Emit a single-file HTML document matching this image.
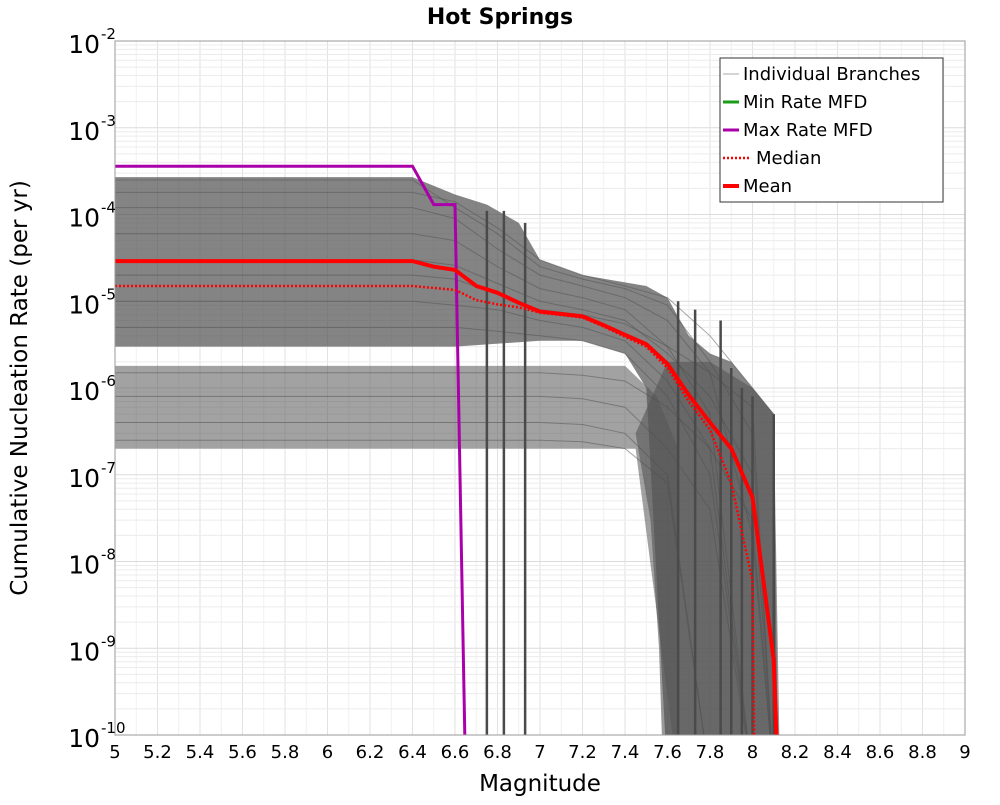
<!DOCTYPE html>
<html><head><meta charset="utf-8"><style>
body{margin:0;background:#fff;font-family:"Liberation Sans","DejaVu Sans",sans-serif}
svg text{font-family:"DejaVu Sans","Liberation Sans",sans-serif}
</style></head><body>
<svg id="chart" width="1000" height="800" xmlns="http://www.w3.org/2000/svg">
<defs><clipPath id="clip"><rect x="115" y="41" width="850" height="694"/></clipPath></defs>
<rect x="0" y="0" width="1000" height="800" fill="#fff"/>
<g id="grid"></g>
<g id="marks" clip-path="url(#clip)"></g>
<rect x="115" y="41" width="850" height="694" fill="none" stroke="#999" stroke-width="1"/>
<g id="axes"></g>
<text x="500" y="24" text-anchor="middle" font-size="22" font-weight="bold">Hot Springs</text>
<text x="540" y="791" text-anchor="middle" font-size="23">Magnitude</text>
<text transform="translate(27,388) rotate(-90)" text-anchor="middle" font-size="23">Cumulative Nucleation Rate (per yr)</text>
<g id="legend">
<rect x="720" y="58" width="223" height="144" fill="#fff" stroke="#333" stroke-width="1"/>
<g><line x1="723" y1="74" x2="739" y2="74" stroke="#aaa" stroke-width="1"/><text x="743" y="80" font-size="18">Individual Branches</text></g>
<g><line x1="723" y1="102" x2="739" y2="102" stroke="#1a9e1a" stroke-width="3"/><text x="743" y="108" font-size="18">Min Rate MFD</text></g>
<g><line x1="723" y1="130" x2="739" y2="130" stroke="#aa00aa" stroke-width="3"/><text x="743" y="136" font-size="18">Max Rate MFD</text></g>
<g><line x1="723" y1="158" x2="751" y2="158" stroke="#f00" stroke-width="2.5" stroke-dasharray="2,2"/><text x="756" y="164" font-size="18">Median</text></g>
<g><line x1="723" y1="186" x2="739" y2="186" stroke="#f00" stroke-width="4"/><text x="743" y="192" font-size="18">Mean</text></g>
</g>
</svg>
<script>
const xTicks=[5,5.2,5.4,5.6,5.8,6,6.2,6.4,6.6,6.8,7,7.2,7.4,7.6,7.8,8,8.2,8.4,8.6,8.8,9];
const yDecades=[-2,-3,-4,-5,-6,-7,-8,-9,-10];
const meanMags=[5,6.4,6.5,6.6,6.7,6.8,6.9,7.0,7.2,7.3,7.4,7.5,7.6,7.7,7.8,7.9,8.0,8.1,8.12];
const meanRates=[2.9e-5,2.9e-5,2.5e-5,2.3e-5,1.5e-5,1.25e-5,9.6e-6,7.6e-6,6.7e-6,5.3e-6,4.1e-6,3.2e-6,1.9e-6,8.3e-7,4e-7,2e-7,5.5e-8,7.4e-10,1e-11];
const medianMags=[5,6.4,6.6,6.7,6.8,6.9,7.0,7.2,7.3,7.4,7.5,7.6,7.7,7.8,7.9,8.0,8.01];
const medianRates=[1.5e-5,1.5e-5,1.35e-5,1.03e-5,9.2e-6,8.5e-6,7.4e-6,6.5e-6,5.1e-6,3.9e-6,3e-6,1.7e-6,7e-7,3.3e-7,8e-8,6e-9,1e-11];
const maxMags=[5,6.4,6.5,6.6,6.65];
const maxRates=[3.6e-4,3.6e-4,1.3e-4,1.3e-4,1e-11];
const upperBandMags=[5,6.4,6.6,6.75,6.9,7.0,7.2,7.5,7.6,7.7,7.8,7.9,8.0,8.1,8.12,7.6,7.5,7.4,7.2,7.0,6.6,5];
const upperBandRates=[2.7e-4,2.7e-4,1.7e-4,1.3e-4,8e-5,3e-5,2e-5,1.5e-5,1.1e-5,4e-6,2.5e-6,2e-6,1e-6,5e-7,1e-11,1e-11,1e-6,2.5e-6,3.5e-6,3.5e-6,3e-6,3e-6];
const lowerBandMags=[5,7.4,7.55,7.65,7.65,7.45,5];
const lowerBandRates=[1.8e-6,1.8e-6,8e-7,2e-7,1e-11,2e-7,2e-7];
const tailBandMags=[7.45,7.52,7.56,7.58,8.13,8.1,8.0,7.8,7.6];
const tailBandRates=[3e-7,3e-8,1e-9,1e-11,1e-11,5e-7,1e-6,2e-6,2e-6];
const dropMags=[6.75,6.83,6.93,7.65,7.73,7.85,7.9,7.95,8.0,8.1];
const dropRates=[1.1e-4,1.1e-4,8e-5,1e-5,8e-6,6e-6,1.7e-6,1e-6,8e-7,5e-7];
const branchMags=[5,6.4,6.6,6.8,7.0,7.2,7.4,7.6,7.8,8.0,8.1];
const branch1=[2.5e-4,2.5e-4,1.2e-4,6e-5,2.5e-5,1.8e-5,1.4e-5,9e-6,2e-6,3e-7,1e-11];
const branch2=[1.2e-4,1.2e-4,9e-5,4e-5,2e-5,1.5e-5,1.1e-5,6e-6,1.5e-6,2e-8,1e-11];
const branch3=[6e-5,6e-5,5e-5,2.5e-5,1.4e-5,1.1e-5,8e-6,3e-6,5e-7,1e-11,1e-11];
const branch4=[3e-5,3e-5,2.6e-5,1.6e-5,1e-5,8e-6,6e-6,2.5e-6,8e-7,1e-7,1e-11];
const branch5=[1e-5,1e-5,9e-6,8e-6,6e-6,5e-6,3.5e-6,1.2e-6,2e-7,1e-11,1e-11];
const branch6=[5e-6,5e-6,5e-6,4.5e-6,4e-6,3.5e-6,2.5e-6,8e-7,1e-7,1e-11,1e-11];
const branch7=[1.5e-6,1.5e-6,1.5e-6,1.5e-6,1.5e-6,1.4e-6,1.2e-6,6e-7,2e-7,3e-8,1e-11];
const branch8=[8e-7,8e-7,8e-7,8e-7,8e-7,7.5e-7,6e-7,2e-7,4e-8,1e-11,1e-11];
const branch9=[4e-7,4e-7,4e-7,4e-7,4e-7,3.8e-7,3e-7,1e-7,1e-11,1e-11,1e-11];
const branch10=[2.5e-7,2.5e-7,2.5e-7,2.5e-7,2.5e-7,2.4e-7,2e-7,8e-8,1e-11,1e-11,1e-11];
const branch11=[1.8e-4,1.8e-4,1.4e-4,7e-5,3e-5,2e-5,1.5e-5,1.1e-5,4e-6,1e-6,5e-7];
const branch12=[2e-5,2e-5,1.8e-5,1.2e-5,8e-6,7e-6,5.5e-6,3e-6,1.5e-6,6e-7,1e-11];
const branches=[branch1,branch2,branch3,branch4,branch5,branch6,branch7,branch8,branch9,branch10,branch11,branch12];

const X0=115,X1=965,Y0=41,Y1=735;
function xs(m){return X0+(m-5)/(9-5)*(X1-X0);}
function ys(r){const l=Math.max(Math.log10(r),-10.5);return Y0+(-2-l)/8*(Y1-Y0);}
const NS="http://www.w3.org/2000/svg";
function mk(t,a,p){const e=document.createElementNS(NS,t);for(const k in a)e.setAttribute(k,a[k]);p.appendChild(e);return e;}
const grid=document.getElementById('grid'),marks=document.getElementById('marks'),axes=document.getElementById('axes');
for(let i=0;i<=40;i++){const m=5+i*0.1;const g=mk('line',{x1:xs(m),x2:xs(m),y1:Y0,y2:Y1,stroke:i%2?'#f0f0f0':'#e2e2e2','stroke-width':1},grid);

}
for(const d of yDecades){for(let k=1;k<10;k++){const r=k*Math.pow(10,d-1);if(Math.log10(r)<-10)continue;const g=mk('line',{x1:X0,x2:X1,y1:ys(r),y2:ys(r),stroke:k==1?'#dcdcdc':'#ececec','stroke-width':1},grid);

}}
function pts(ms,rs){return ms.map((m,i)=>xs(m).toFixed(1)+','+ys(rs[i]).toFixed(1)).join(' ');}
let p=mk('polygon',{points:pts(tailBandMags,tailBandRates),fill:'#555','fill-opacity':0.6},marks);


p=mk('polygon',{points:pts(upperBandMags,upperBandRates),fill:'#555','fill-opacity':0.72},marks);


p=mk('polygon',{points:pts(lowerBandMags,lowerBandRates),fill:'#555','fill-opacity':0.55},marks);


branches.forEach(b=>{const l=mk('polyline',{points:pts(branchMags,b),fill:'none',stroke:'#505050','stroke-opacity':0.5,'stroke-width':1},marks);

});
dropMags.forEach((m,i)=>{const l=mk('line',{x1:xs(m),x2:xs(m),y1:ys(dropRates[i]),y2:Y1,stroke:'#4a4a4a','stroke-width':2.5},marks);

});
let s=mk('polyline',{points:pts(maxMags,maxRates),fill:'none',stroke:'#aa00aa','stroke-width':3},marks);


s=mk('polyline',{points:pts(medianMags,medianRates),fill:'none',stroke:'#f00','stroke-width':2.5,'stroke-dasharray':'2,2'},marks);


s=mk('polyline',{points:pts(meanMags,meanRates),fill:'none',stroke:'#f00','stroke-width':4},marks);


xTicks.forEach(m=>{const t=mk('text',{x:xs(m),y:758,'text-anchor':'middle','font-size':18},axes);t.textContent=String(m);

});
yDecades.forEach(d=>{const y=ys(Math.pow(10,d));const t=mk('text',{x:100,y:y+12,'text-anchor':'end','font-size':25},axes);t.textContent='10';


const e=mk('text',{x:101,y:y-2,'text-anchor':'start','font-size':15},axes);e.textContent=String(d);

});
</script>
</body></html>
